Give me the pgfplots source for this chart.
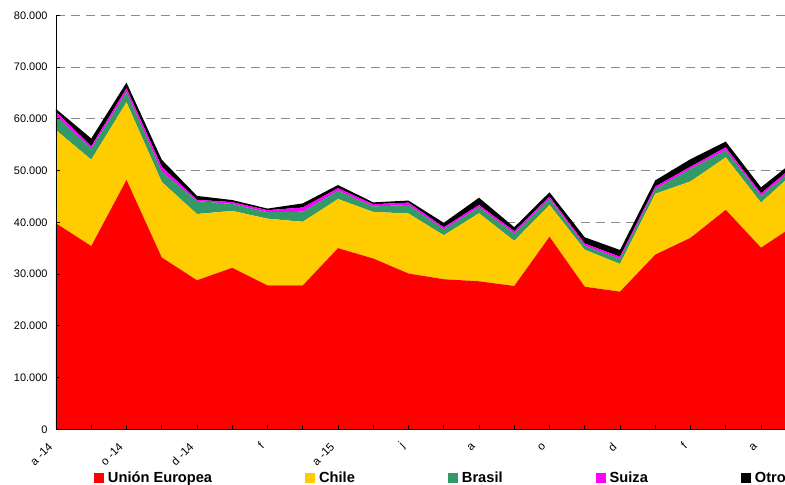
\documentclass[border=0pt]{standalone}
\usepackage{pgfplots}
\usepackage{pgfplotstable}
\pgfplotsset{compat=1.18}
\usepackage{fontspec}
\setmainfont{Liberation Sans}
\definecolor{cEU}{HTML}{FF0000}
\definecolor{cCL}{HTML}{FFCC00}
\definecolor{cBR}{HTML}{339966}
\definecolor{cSU}{HTML}{FF00FF}
\definecolor{cOT}{HTML}{000000}
\definecolor{gridgray}{HTML}{8C8C8C}

\pgfplotstableread{
i EU CL BR SU OT
0 39800 18000 2800 750 550
1 35400 16700 2100 500 1500
2 48200 15000 2000 700 1100
3 33200 14600 2000 950 1350
4 28800 12800 2500 250 750
5 31200 11000 1350 350 400
6 27800 12900 1250 400 300
7 27800 12300 1950 800 800
8 35000 9500 1600 500 600
9 33000 9000 1050 450 350
10 30100 11600 1650 450 400
11 29000 8500 1150 400 850
12 28600 13150 1150 450 1400
13 27700 8700 1450 450 750
14 37200 6150 1150 450 850
15 27550 7150 750 450 1200
16 26600 5350 1000 400 1300
17 33750 11750 900 500 1200
18 37000 10900 2450 400 1450
19 42400 10150 1400 550 1100
20 35100 8700 1300 500 1150
21 39600 10400 750 550 850
}\data

\begin{document}
\begin{tikzpicture}
% background axis: grid only
\begin{axis}[
  at={(0,0)}, anchor=south west,
  scale only axis, width=740.25bp, height=414bp,
  xmin=0, xmax=21, ymin=0, ymax=80000,
  axis line style={draw=none},
  xtick=\empty,
  ytick={10000,20000,...,70000},
  yticklabels={},
  scaled y ticks=false,
  major tick length=0pt,
  ymajorgrids,
  major grid style={draw=gridgray, line width=0.9pt, dash pattern=on 9bp off 6bp},
  extra y ticks={80000},
  extra y tick labels={},
  extra y tick style={grid style={solid, draw=gridgray, line width=1pt, dash pattern=}},
]
\end{axis}
% main axis
\begin{axis}[
  at={(0,0)}, anchor=south west,
  scale only axis, width=740.25bp, height=414bp,
  xmin=0, xmax=21, ymin=0, ymax=80000,
  axis lines*=left,
  axis line style={black, line width=0.8pt},
  axis on top,
  stack plots=y,
  xtick={0,2,...,20},
  minor xtick={1,3,...,21},
  xticklabels={a -14,o -14,d -14,f,a -15,j,a,o,d,f,a},
  ytick={0,10000,...,80000},
  tick align=inside, major tick length=4bp, minor tick length=4bp,
  tick style={black, line width=0.6pt},
  minor tick style={black, line width=0.6pt},
  scaled y ticks=false,
  yticklabel style={font=\fontsize{11}{13}\selectfont, xshift=-5bp,
    /pgf/number format/fixed, /pgf/number format/1000 sep={.},
    /pgf/number format/assume math mode=true},
  xticklabel style={font=\fontsize{11.5}{13}\selectfont, xshift=-3bp, yshift=-13bp, rotate=45, anchor=east},
  legend columns=5,
  legend image code/.code={\fill[#1] (0bp,-5bp) rectangle (10bp,5bp);},
  legend style={draw=none, fill=none, inner sep=0pt, outer sep=0pt,
    at={(axis description cs:0,0)}, anchor=west, xshift=38bp, yshift=-49bp,
    font=\bfseries\fontsize{14.7}{17}\selectfont,
    nodes={inner sep=0pt},
    /tikz/every odd column/.append style={column sep=4bp},
    /tikz/every even column/.append style={column sep=93bp}},
]
\addplot[fill=cEU, draw=none] table[x=i, y=EU]{\data} \closedcycle;
\addlegendentry{Unión Europea}
\addplot[fill=cCL, draw=none] table[x=i, y=CL]{\data} \closedcycle;
\addlegendentry{Chile}
\addplot[fill=cBR, draw=none] table[x=i, y=BR]{\data} \closedcycle;
\addlegendentry{Brasil}
\addplot[fill=cSU, draw=none] table[x=i, y=SU]{\data} \closedcycle;
\addlegendentry{Suiza}
\addplot[fill=cOT, draw=none] table[x=i, y=OT]{\data} \closedcycle;
\addlegendentry{Otro}
\end{axis}
\pgfresetboundingbox
\path[use as bounding box] (-56bp,-55.7bp) rectangle (729bp,429.3bp);
\end{tikzpicture}
\end{document}
